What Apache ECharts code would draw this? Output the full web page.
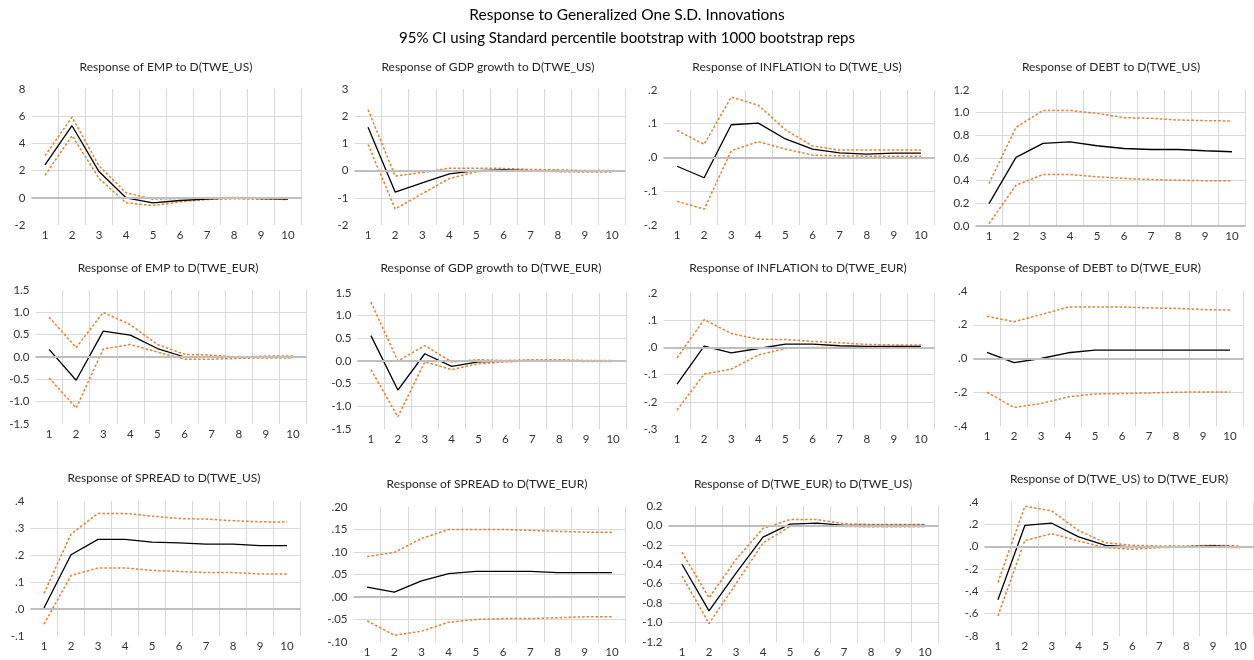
<!DOCTYPE html>
<html>
<head>
<meta charset="utf-8">
<script src="https://cdn.jsdelivr.net/npm/echarts@6/dist/echarts.min.js"></script>
<style>html,body{margin:0;padding:0;background:#fff}#c{width:1254px;height:660px}</style>
</head>
<body>
<div id="c"></div>
<script>
const categories = ['1','2','3','4','5','6','7','8','9','10'];
const mainTitle1 = 'Response to Generalized One S.D. Innovations';
const mainTitle2 = '95% CI using Standard percentile bootstrap with 1000 bootstrap reps';
const panelTitles = [
  'Response of EMP to D(TWE_US)', 'Response of GDP growth to D(TWE_US)', 'Response of INFLATION to D(TWE_US)', 'Response of DEBT to D(TWE_US)',
  'Response of EMP to D(TWE_EUR)', 'Response of GDP growth to D(TWE_EUR)', 'Response of INFLATION to D(TWE_EUR)', 'Response of DEBT to D(TWE_EUR)',
  'Response of SPREAD to D(TWE_US)', 'Response of SPREAD to D(TWE_EUR)', 'Response of D(TWE_EUR) to D(TWE_US)', 'Response of D(TWE_US) to D(TWE_EUR)'
];

// Panel 1: EMP to D(TWE_US)
const empUsResp  = [2.42, 5.3, 1.93, 0.0, -0.37, -0.2, -0.1, 0.0, -0.05, -0.1];
const empUsUpper = [3.1, 5.93, 2.35, 0.37, -0.1, -0.05, 0.0, 0.02, 0.0, 0.0];
const empUsLower = [1.65, 4.57, 1.43, -0.37, -0.57, -0.3, -0.12, -0.07, -0.1, -0.12];
const empUsTicks = ['-2','0','2','4','6','8'];
// Panel 2: GDP growth to D(TWE_US)
const gdpUsResp  = [1.59, -0.79, -0.45, -0.12, 0.0, 0.03, 0.0, -0.01, -0.01, -0.01];
const gdpUsUpper = [2.24, -0.2, -0.07, 0.09, 0.09, 0.08, 0.04, 0.03, 0.0, 0.0];
const gdpUsLower = [0.96, -1.41, -0.85, -0.29, -0.04, 0.0, -0.01, -0.04, -0.05, -0.05];
const gdpUsTicks = ['-2','-1','0','1','2','3'];
// Panel 3: INFLATION to D(TWE_US)
const infUsResp  = [-0.026, -0.06, 0.097, 0.102, 0.055, 0.025, 0.014, 0.01, 0.013, 0.013];
const infUsUpper = [0.08, 0.039, 0.179, 0.155, 0.082, 0.034, 0.022, 0.022, 0.022, 0.022];
const infUsLower = [-0.13, -0.153, 0.02, 0.047, 0.025, 0.007, 0.005, 0.004, 0.004, 0.004];
const infUsTicks = ['-.2','-.1','.0','.1','.2'];
// Panel 4: DEBT to D(TWE_US)
const debtUsResp  = [0.198, 0.605, 0.729, 0.743, 0.708, 0.684, 0.675, 0.675, 0.664, 0.655];
const debtUsUpper = [0.375, 0.87, 1.02, 1.02, 0.994, 0.956, 0.95, 0.935, 0.93, 0.926];
const debtUsLower = [0.02, 0.36, 0.454, 0.454, 0.434, 0.42, 0.41, 0.404, 0.4, 0.4];
const debtUsTicks = ['0.0','0.2','0.4','0.6','0.8','1.0','1.2'];
// Panel 5: EMP to D(TWE_EUR)
const empEurResp  = [0.17, -0.52, 0.58, 0.49, 0.19, 0.0, -0.01, -0.01, 0.0, 0.0];
const empEurUpper = [0.89, 0.21, 1.0, 0.72, 0.28, 0.06, 0.04, 0.0, 0.02, 0.02];
const empEurLower = [-0.47, -1.14, 0.18, 0.28, 0.11, -0.05, -0.05, -0.03, -0.02, -0.02];
const empEurTicks = ['-1.5','-1.0','-0.5','0.0','0.5','1.0','1.5'];
// Panel 6: GDP growth to D(TWE_EUR)
const gdpEurResp  = [0.56, -0.64, 0.16, -0.12, -0.02, 0.0, 0.01, 0.01, 0.0, 0.0];
const gdpEurUpper = [1.3, 0.0, 0.34, -0.02, 0.03, 0.01, 0.03, 0.03, 0.01, 0.01];
const gdpEurLower = [-0.19, -1.23, -0.02, -0.19, -0.06, -0.02, 0.0, 0.0, -0.01, -0.01];
const gdpEurTicks = ['-1.5','-1.0','-0.5','0.0','0.5','1.0','1.5'];
// Panel 7: INFLATION to D(TWE_EUR)
const infEurResp  = [-0.135, 0.005, -0.02, -0.004, 0.012, 0.012, 0.006, 0.004, 0.004, 0.004];
const infEurUpper = [-0.038, 0.102, 0.051, 0.03, 0.029, 0.022, 0.017, 0.011, 0.009, 0.009];
const infEurLower = [-0.23, -0.098, -0.08, -0.028, -0.004, 0.0, 0.0, -0.001, -0.001, -0.001];
const infEurTicks = ['-.3','-.2','-.1','.0','.1','.2'];
// Panel 8: DEBT to D(TWE_EUR)
const debtEurResp  = [0.036, -0.024, 0.0, 0.034, 0.05, 0.05, 0.05, 0.05, 0.05, 0.05];
const debtEurUpper = [0.25, 0.218, 0.26, 0.305, 0.305, 0.305, 0.3, 0.297, 0.29, 0.287];
const debtEurLower = [-0.2, -0.29, -0.267, -0.228, -0.21, -0.208, -0.204, -0.2, -0.198, -0.198];
const debtEurTicks = ['-.4','-.2','.0','.2','.4'];
// Panel 9: SPREAD to D(TWE_US)
const sprUsResp  = [0.004, 0.201, 0.258, 0.258, 0.248, 0.245, 0.24, 0.24, 0.235, 0.235];
const sprUsUpper = [0.058, 0.277, 0.354, 0.354, 0.344, 0.335, 0.333, 0.327, 0.323, 0.322];
const sprUsLower = [-0.056, 0.124, 0.152, 0.152, 0.143, 0.139, 0.135, 0.135, 0.13, 0.13];
const sprUsTicks = ['-.1','.0','.1','.2','.3','.4'];
// Panel 10: SPREAD to D(TWE_EUR)
const sprEurResp  = [0.022, 0.011, 0.036, 0.052, 0.057, 0.057, 0.057, 0.054, 0.054, 0.054];
const sprEurUpper = [0.09, 0.099, 0.13, 0.15, 0.15, 0.15, 0.148, 0.146, 0.144, 0.144];
const sprEurLower = [-0.053, -0.085, -0.076, -0.056, -0.05, -0.048, -0.048, -0.046, -0.044, -0.044];
const sprEurTicks = ['-.10','-.05','.00','.05','.10','.15','.20'];
// Panel 11: D(TWE_EUR) to D(TWE_US)
const eurUsResp  = [-0.4, -0.88, -0.49, -0.12, 0.014, 0.024, 0.0, 0.0, 0.0, 0.0];
const eurUsUpper = [-0.276, -0.745, -0.35, -0.03, 0.06, 0.06, 0.017, 0.01, 0.01, 0.01];
const eurUsLower = [-0.52, -1.01, -0.6, -0.18, -0.01, 0.0, -0.01, -0.014, -0.014, -0.014];
const eurUsTicks = ['-1.2','-1.0','-0.8','-0.6','-0.4','-0.2','0.0','0.2'];
// Panel 12: D(TWE_US) to D(TWE_EUR)
const usEurResp  = [-0.476, 0.19, 0.21, 0.088, 0.012, -0.003, -0.003, 0.0, 0.006, -0.003];
const usEurUpper = [-0.32, 0.362, 0.32, 0.143, 0.035, 0.012, 0.006, 0.006, 0.012, 0.006];
const usEurLower = [-0.62, 0.055, 0.117, 0.05, -0.009, -0.023, -0.009, -0.003, -0.003, -0.009];
const usEurTicks = ['-.8','-.6','-.4','-.2','.0','.2','.4'];

// axis scales: [min, interval]
const axisScales = [
  [-2, 2], [-2, 1], [-0.2, 0.1], [0, 0.2],
  [-1.5, 0.5], [-1.5, 0.5], [-0.3, 0.1], [-0.4, 0.2],
  [-0.1, 0.1], [-0.1, 0.05], [-1.2, 0.2], [-0.8, 0.2]
];
const panels = [
  [empUsResp, empUsUpper, empUsLower, empUsTicks],
  [gdpUsResp, gdpUsUpper, gdpUsLower, gdpUsTicks],
  [infUsResp, infUsUpper, infUsLower, infUsTicks],
  [debtUsResp, debtUsUpper, debtUsLower, debtUsTicks],
  [empEurResp, empEurUpper, empEurLower, empEurTicks],
  [gdpEurResp, gdpEurUpper, gdpEurLower, gdpEurTicks],
  [infEurResp, infEurUpper, infEurLower, infEurTicks],
  [debtEurResp, debtEurUpper, debtEurLower, debtEurTicks],
  [sprUsResp, sprUsUpper, sprUsLower, sprUsTicks],
  [sprEurResp, sprEurUpper, sprEurLower, sprEurTicks],
  [eurUsResp, eurUsUpper, eurUsLower, eurUsTicks],
  [usEurResp, usEurUpper, usEurLower, usEurTicks]
];

// layout: [left, top, width, height]
const gridBoxes = [
  [31.5, 89, 270, 136], [354.5, 89, 271, 136], [663.5, 90, 271, 135], [975.5, 90, 270, 136],
  [35.5, 290, 271, 134], [357.5, 293, 269, 136], [663.5, 293, 271, 136], [973.5, 291, 270, 135],
  [30.5, 501, 270, 135], [353.5, 507, 272, 135], [668.5, 506, 270, 136], [984.5, 502, 269, 134]
];
const titlePos = [
  [166, 67], [488, 67], [797, 67], [1111, 67],
  [168, 268], [491, 268], [798, 268], [1108, 268],
  [164, 478], [487, 484], [803, 484], [1119, 479]
];

const FONT = 'Lato';
const ORANGE = '#ED7D31';
const grids = [], xAxes = [], yAxes = [], series = [], graphics = [];

graphics.push({type:'text', x:627, y:15, style:{text: mainTitle1, font:'15.5px ' + FONT, fill:'#000', align:'center', verticalAlign:'middle'}});
graphics.push({type:'text', x:627, y:38, style:{text: mainTitle2, font:'15px ' + FONT, fill:'#000', align:'center', verticalAlign:'middle'}});

panels.forEach((p, i) => {
  const [resp, upper, lower, ticks] = p;
  const [mn, iv] = axisScales[i];
  const mx = mn + iv * (ticks.length - 1);
  const b = gridBoxes[i];
  grids.push({left: b[0], top: b[1], width: b[2], height: b[3], containLabel: false});
  const xSplitColors = categories.map((c, k) => k === 0 ? 'rgba(0,0,0,0)' : '#D9D9D9');
  xSplitColors.push('#D9D9D9');
  xAxes.push({
    type: 'category', gridIndex: i, data: categories, boundaryGap: true,
    axisLine: {show: false}, axisTick: {show: false},
    axisLabel: {fontFamily: FONT, fontSize: 11.5, color: '#333', margin: 4, interval: 0},
    splitLine: {show: true, interval: 0, lineStyle: {color: xSplitColors, width: 1}}
  });
  const ySplitColors = ticks.map((t, k) => (k === 0 || k === ticks.length - 1) ? 'rgba(0,0,0,0)' : '#D9D9D9');
  yAxes.push({
    type: 'value', gridIndex: i, min: mn, max: mx, interval: iv,
    axisLine: {show: false}, axisTick: {show: false},
    axisLabel: {fontFamily: FONT, fontSize: 11.5, color: '#333', margin: 6,
      formatter: v => ticks[Math.round((v - mn) / iv)] ?? ''},
    splitLine: {show: true, lineStyle: {color: ySplitColors, width: 1}}
  });
  series.push({
    type: 'line', xAxisIndex: i, yAxisIndex: i, data: [], silent: true, z: 1,
    markLine: {silent: true, symbol: 'none', label: {show: false},
      lineStyle: {color: '#BFBFBF', width: 2, type: 'solid'}, data: [{yAxis: 0}], animation: false}
  });
  [upper, lower].forEach(arr => series.push({
    type: 'line', xAxisIndex: i, yAxisIndex: i, data: arr, symbol: 'none', z: 3, silent: true,
    lineStyle: {color: ORANGE, width: 1.5, type: [2.5, 2]}
  }));
  series.push({
    type: 'line', xAxisIndex: i, yAxisIndex: i, data: resp, symbol: 'none', z: 4, silent: true,
    lineStyle: {color: '#000', width: 1.3}
  });
  graphics.push({type:'text', x: titlePos[i][0], y: titlePos[i][1],
    style:{text: panelTitles[i], font: '12px ' + FONT, fill:'#262626', align:'center', verticalAlign:'middle'}});
});

const chart = echarts.init(document.getElementById('c'), null, {renderer: 'canvas'});
chart.setOption({
  animation: false,
  backgroundColor: '#fff',
  grid: grids, xAxis: xAxes, yAxis: yAxes, series: series, graphic: graphics
});
</script>
</body>
</html>
